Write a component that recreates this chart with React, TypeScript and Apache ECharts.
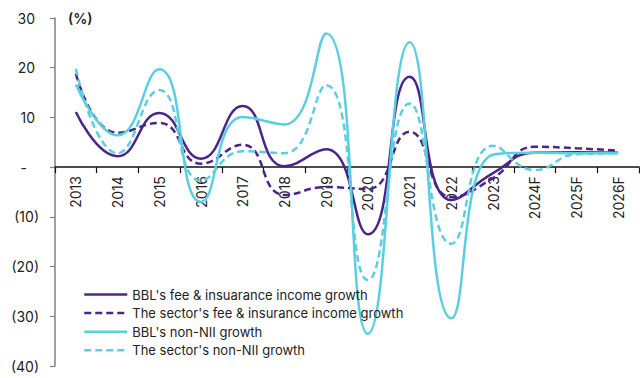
import React, { useEffect, useRef } from "react";
import * as echarts from "echarts";

const years = ["2013", "2014", "2015", "2016", "2017", "2018", "2019", "2020", "2021", "2022", "2023", "2024F", "2025F", "2026F"];

const bblFeeGrowth = [11.1, 2.2, 10.9, 1.7, 12.3, 0.2, 3.6, -13.5, 18.2, -6.6, -1.2, 2.9, 3.0, 2.9];
const sectorFeeGrowth = [18.8, 6.9, 8.9, 0.7, 4.5, -5.6, -4.0, -4.4, 7.1, -6.0, -2.2, 4.1, 3.8, 3.3];
const bblNonNiiGrowth = [16.6, 6.4, 19.7, -7.0, 10.1, 8.6, 26.9, -33.5, 25.1, -30.4, 2.5, 2.9, 2.8, 2.8];
const sectorNonNiiGrowth = [19.8, 2.8, 15.5, -2.7, 3.2, 2.8, 16.5, -22.7, 12.8, -15.4, 4.3, -0.6, 2.6, 2.8];

const seriesNames = [
  "BBL's fee & insuarance income growth",
  "The sector's fee & insurance income growth",
  "BBL's non-NII growth",
  "The sector's non-NII growth",
];

const Y_MIN = -40;
const Y_MAX = 30;

const PURPLE = "#4a268c";
const CYAN = "#5bcfe0";
const FONT = "Inter, 'Noto Sans', sans-serif";

// plot area insets
const GRID_TOP = 18;
const GRID_BOTTOM = 12;
const HEIGHT = 378;

export default function App() {
  const ref = useRef<HTMLDivElement>(null);

  useEffect(() => {
    document.body.style.margin = "0";
    if (!ref.current) return;
    const chart = echarts.init(ref.current, undefined, { renderer: "svg" });

    // keep the category axis (line, ticks, labels) on the zero line
    const plotH = HEIGHT - GRID_TOP - GRID_BOTTOM;
    const zeroOffset = -(plotH * (0 - Y_MIN)) / (Y_MAX - Y_MIN);

    const mk = (name: string, data: number[], color: string, dashed: boolean) => ({
      name,
      type: "line",
      data,
      smooth: 0.5,
      symbol: "none",
      lineStyle: { color, width: 2.5, type: dashed ? [7, 4] : "solid" },
      itemStyle: { color },
    });

    const labelStyle = { fontSize: 14, color: "#222", fontFamily: FONT };

    chart.setOption({
      animation: false,
      textStyle: { fontFamily: FONT },
      grid: {
        left: 55,
        right: 1,
        top: GRID_TOP,
        bottom: GRID_BOTTOM,
        containLabel: false,
        outerBoundsMode: "none",
      },
      graphic: [
        {
          type: "text",
          left: 68,
          top: 11,
          style: { text: "(%)", font: `600 14px ${FONT}`, fill: "#222" },
        },
      ],
      legend: {
        orient: "vertical",
        left: 83,
        top: 288,
        padding: 0,
        itemWidth: 43,
        itemHeight: 14,
        itemGap: 5.6,
        itemStyle: { color: "transparent", borderColor: "transparent", borderWidth: 0 },
        lineStyle: { width: 2.5 },
        textStyle: { fontSize: 13, color: "#222", fontFamily: FONT },
        data: seriesNames,
      },
      xAxis: {
        type: "category",
        data: years,
        boundaryGap: true,
        position: "bottom",
        offset: zeroOffset,
        axisLine: { onZero: false, lineStyle: { color: "#111", width: 1.5 } },
        axisTick: { show: true, length: 6, lineStyle: { color: "#111", width: 1.2 } },
        axisLabel: { rotate: 90, margin: 9, ...labelStyle },
        splitLine: { show: false },
      },
      yAxis: {
        type: "value",
        min: Y_MIN,
        max: Y_MAX,
        interval: 10,
        axisLine: { show: true, lineStyle: { color: "#808080", width: 1.5 } },
        axisTick: { show: true, length: 5, lineStyle: { color: "#808080", width: 1.2 } },
        axisLabel: {
          margin: 16,
          ...labelStyle,
          // accounting style: negatives in parentheses, zero as a dash
          formatter: (v: number) =>
            v > 0 ? `{pos|${v}}` : v === 0 ? "{zero|-}" : `{neg|(${-v})}`,
          rich: {
            pos: { ...labelStyle, padding: [0, 4, 0, 0] },
            zero: { ...labelStyle, padding: [0, 12, 0, 0] },
            neg: { ...labelStyle },
          },
        },
        splitLine: { show: false },
      },
      series: [
        mk(seriesNames[0], bblFeeGrowth, PURPLE, false),
        mk(seriesNames[1], sectorFeeGrowth, PURPLE, true),
        mk(seriesNames[2], bblNonNiiGrowth, CYAN, false),
        mk(seriesNames[3], sectorNonNiiGrowth, CYAN, true),
      ],
    });

    return () => chart.dispose();
  }, []);

  return <div ref={ref} style={{ width: 640, height: 378 }} />;
}
